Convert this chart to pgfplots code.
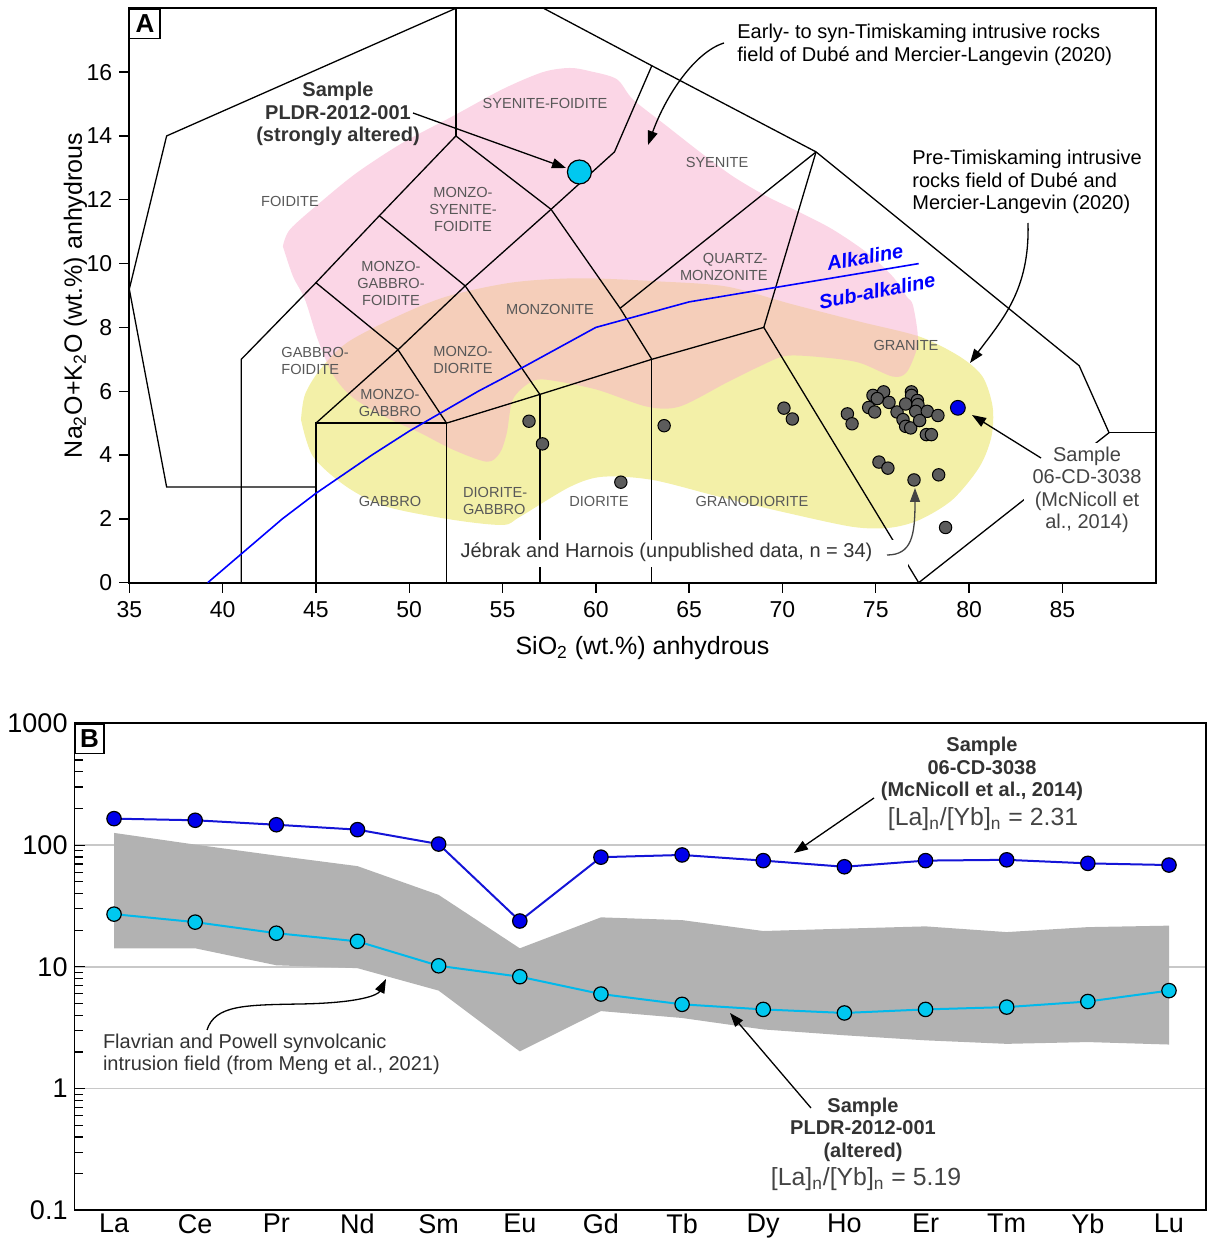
\documentclass[border=0pt]{standalone}
\usepackage{fontspec}
\setmainfont{Liberation Sans}
\usepackage{pgfplots}
\pgfplotsset{compat=1.18}
\usetikzlibrary{arrows.meta}
\definecolor{pinkf}{RGB}{247,173,205}
\definecolor{yellowf}{RGB}{243,240,168}
\definecolor{regtext}{RGB}{88,88,88}
\definecolor{dk}{RGB}{51,51,51}
\definecolor{mg}{RGB}{68,68,68}
\definecolor{dotgray}{RGB}{92,92,92}
\definecolor{cyandot}{RGB}{0,200,240}
\definecolor{cyanline}{RGB}{0,185,235}
\definecolor{bluedot}{RGB}{0,0,235}
\definecolor{blueline}{RGB}{20,20,215}
\definecolor{bandgray}{RGB}{178,178,178}
\definecolor{gridgray}{RGB}{200,200,200}
\newcommand\rs{\fontsize{7.3}{8.5}\selectfont}
\newcommand\an{\fontsize{10}{11.2}\selectfont}
\begin{document}
\begin{tikzpicture}
\useasboundingbox (0,0) rectangle (603.5pt,619.5pt);
% ---------------- Panel A ----------------
\begin{axis}[
  at={(64.65pt,328.15pt)}, anchor=south west, scale only axis,
  width=513.2pt, height=287.2pt,
  xmin=35, xmax=90, ymin=0, ymax=18,
  xtick={35,40,...,85}, ytick={0,2,...,16},
  xtick pos=left, ytick pos=left, tick align=outside,
  major tick length=5pt,
  tick style={black, line width=0.7pt},
  axis line style={line width=0.9pt},
  ticklabel style={font=\fontsize{11.5}{13}\selectfont},
  xticklabel style={yshift=-1pt},
  /pgf/number format/assume math mode=true,
  xlabel={SiO\textsubscript{2} (wt.\%) anhydrous},
  ylabel={Na\textsubscript{2}O+K\textsubscript{2}O (wt.\%) anhydrous},
  xlabel style={font=\fontsize{12.5}{14}\selectfont, at={(axis description cs:0.5,-0.1137)}, anchor=center},
  ylabel style={font=\fontsize{12.5}{14}\selectfont, at={(axis description cs:-0.0525,0.5)}, anchor=center},
]
% Pre-Timiskaming field (yellow)
\addplot[fill=yellowf, draw=none, smooth] coordinates {
(44.2,5.11)(44.41,5.89)(45.21,6.67)(46.66,7.52)(49.34,8.34)(52.02,8.97)(55.55,9.41)(59.14,9.54)(63.43,9.44)(67.01,9.28)(70.55,8.72)(74.14,8.18)(77.35,7.71)(79.49,7.09)(80.72,6.46)(81.26,5.52)(81.2,4.58)(80.56,3.63)(79.11,2.6)(77.35,1.97)(75.74,1.72)(73.76,1.75)(70.22,2.19)(66.63,2.69)(63.04,3.22)(60.36,3.32)(58.6,3.0)(55.92,2.06)(55.01,1.81)(52.34,1.97)(48.8,2.38)(46.66,3.0)(44.85,3.95)(44.2,5.11)};
% Early- to syn-Timiskaming field (pink)
\addplot[fill=pinkf, fill opacity=0.5, draw=none, smooth] coordinates {
(43.23,10.54)(43.61,11.07)(45.22,11.91)(47.2,12.85)(49.66,13.79)(52.34,14.62)(55.02,15.47)(57.16,16.0)(58.6,16.13)(59.68,16.03)(61.12,15.78)(61.98,15.15)(63.8,14.31)(65.57,13.5)(67.33,12.74)(69.15,12.11)(70.92,11.61)(72.69,11.07)(74.51,10.35)(75.9,9.6)(76.65,8.97)(76.98,8.72)(77.24,7.84)(77.19,7.31)(76.65,6.59)(75.9,6.46)(74.14,6.89)(72.35,7.05)(70.22,7.11)(68.78,6.78)(67.01,6.27)(64.49,5.52)(62.72,5.52)(60.05,6.05)(57.37,6.36)(56.46,6.27)(55.55,5.74)(55.23,4.7)(54.86,4.07)(54.16,3.79)(52.34,4.17)(50.57,4.7)(48.8,5.17)(46.98,5.8)(45.91,6.52)(45.1,7.62)(44.41,8.88)(43.77,9.6)(43.23,10.54)};
% TAS field boundaries
\addplot[black, line width=0.65pt] coordinates {(52.5,18)(37,14)(35,9.2)(37,3)(45,3)};
\addplot[black, line width=0.65pt] coordinates {(52.5,18)(52.5,14)};
\addplot[black, line width=0.65pt] coordinates {(41,0)(41,7)(45,9.4)(48.4,11.5)(52.5,14)(57.6,11.7)(61.3,8.6)(63,7)};
\addplot[black, line width=0.65pt] coordinates {(45,0)(45,5)(52,5)(52,0)};
\addplot[black, line width=0.65pt] coordinates {(45,5)(49.4,7.3)(52,5)};
\addplot[black, line width=0.65pt] coordinates {(45,9.4)(49.4,7.3)(53,9.3)(57,5.9)};
\addplot[black, line width=0.65pt] coordinates {(48.4,11.5)(53,9.3)(57.6,11.7)(61,13.5)(63,16.2)};
\addplot[black, line width=0.65pt] coordinates {(52,5)(57,5.9)(63,7)(69,8)(77.3,0)};
\addplot[black, line width=0.65pt] coordinates {(57,0)(57,5.9)};
\addplot[black, line width=0.65pt] coordinates {(63,0)(63,7)};
\addplot[black, line width=0.65pt] coordinates {(61.3,8.6)(71.8,13.5)};
\addplot[black, line width=0.65pt] coordinates {(69,8)(71.8,13.5)};
\addplot[black, line width=0.65pt] coordinates {(57.2,18)(63,16.2)(71.8,13.5)(85.9,6.8)(87.5,4.7)(77.3,0)};
\addplot[black, line width=0.65pt] coordinates {(87.5,4.7)(90,4.7)};
% Alkaline / sub-alkaline divide
\addplot[blue, line width=0.8pt] coordinates {(39.2,0)(40,0.4)(43.2,2.0)(45,2.8)(48,4.0)(50,4.75)(53.7,6.0)(55,6.4)(60,8.0)(65,8.8)(77.3,10.0)};
% Jebrak and Harnois data (n = 34)
\addplot[only marks, mark=*, mark size=3.1pt, mark options={fill=dotgray, draw=black, line width=0.5pt}] coordinates {
(56.42,5.06)(57.14,4.35)(61.34,3.15)(63.66,4.92)(70.08,5.47)(70.53,5.13)(73.48,5.29)(73.73,4.98)(74.85,5.87)(75.42,5.98)(75.08,5.77)(74.62,5.49)(74.94,5.35)(75.71,5.65)(76.14,5.35)(76.91,5.98)(76.92,5.87)(76.6,5.6)(77.23,5.71)(77.26,5.58)(77.14,5.37)(77.76,5.37)(78.33,5.24)(76.46,5.11)(76.6,4.9)(76.87,4.85)(77.35,5.08)(77.71,4.64)(77.98,4.64)(75.17,3.78)(75.65,3.59)(77.05,3.22)(78.37,3.38)(78.74,1.73)};
% Sample 06-CD-3038
\addplot[only marks, mark=*, mark size=3.7pt, mark options={fill=bluedot, draw=black, line width=0.5pt}] coordinates {(79.4,5.48)};
% Sample PLDR-2012-001
\addplot[only marks, mark=*, mark size=6pt, mark options={fill=cyandot, draw=black, line width=0.6pt}] coordinates {(59.12,12.87)};
\end{axis}
% ---------------- Panel B ----------------
\begin{axis}[
  at={(37.3pt,14.35pt)}, anchor=south west, scale only axis,
  width=565.7pt, height=243.45pt,
  ymode=log, ymin=0.1, ymax=1000, xmin=-0.486, xmax=13.456,
  xtick={0,...,13}, xticklabels={La,Ce,Pr,Nd,Sm,Eu,Gd,Tb,Dy,Ho,Er,Tm,Yb,Lu},
  xtick style={draw=none},
  ytick={0.1,1,10,100,1000}, yticklabels={0.1,1,10,100,1000},
  ytick pos=left, tick align=inside,
  major tick length=5pt, minor tick length=4pt,
  tick style={black, line width=0.6pt},
  ymajorgrids, grid style={gridgray, line width=0.8pt},
  axis line style={line width=0.9pt},
  ticklabel style={font=\fontsize{13.5}{15}\selectfont},
  xticklabel style={yshift=1.5pt},
]
\addplot[fill=bandgray, draw=none] coordinates {
(0,126)(1,101)(2,82)(3,67.2)(4,39)(5,14.2)(6,25.5)(7,24.2)(8,19.7)(9,20.6)(10,21.5)(11,19.3)(12,21.2)(13,21.8)
(13,2.30)(12,2.41)(11,2.33)(10,2.49)(9,2.74)(8,3.06)(7,3.8)(6,4.33)(5,2.02)(4,6.38)(3,9.75)(2,10.3)(1,14.2)(0,14.2)(0,126)};
\addplot[blueline, line width=1pt, mark=*, mark size=3.6pt, mark options={fill=bluedot, draw=black, line width=0.6pt}] coordinates {
(0,165)(1,160)(2,147)(3,134)(4,102)(5,23.8)(6,79.6)(7,83)(8,74.6)(9,66.4)(10,74.6)(11,75.7)(12,70.8)(13,68.6)};
\addplot[cyanline, line width=1pt, mark=*, mark size=3.6pt, mark options={fill=cyandot, draw=black, line width=0.6pt}] coordinates {
(0,27.1)(1,23.3)(2,18.9)(3,16.2)(4,10.2)(5,8.3)(6,5.98)(7,4.92)(8,4.47)(9,4.18)(10,4.47)(11,4.67)(12,5.19)(13,6.38)};
\end{axis}
% ---------------- annotations (pixel frame) ----------------
\begin{scope}[x=0.5pt, y=-0.5pt, shift={(0pt,619.5pt)}]
% panel letters
\draw[line width=0.7pt, fill=white] (129.5,9.5) rectangle (160,38.3);
\node[font=\fontsize{13}{14}\selectfont\bfseries] at (145,24) {A};
\draw[line width=0.7pt, fill=white] (74.8,724) rectangle (104,753.4);
\node[font=\fontsize{13}{14}\selectfont\bfseries] at (89.5,739) {B};
% rock names
\begin{scope}[every node/.style={font=\rs, text=regtext, align=center, inner sep=0pt}]
\node at (545,103) {SYENITE-FOIDITE};
\node at (717,162) {SYENITE};
\node at (290,201) {FOIDITE};
\node at (463,209) {MONZO-\\SYENITE-\\FOIDITE};
\node at (391,283) {MONZO-\\GABBRO-\\FOIDITE};
\node[anchor=east, align=right] at (768,267) {QUARTZ-\\MONZONITE};
\node at (550,309) {MONZONITE};
\node[anchor=west, align=left] at (281,361) {GABBRO-\\FOIDITE};
\node at (463,360) {MONZO-\\DIORITE};
\node at (390,403) {MONZO-\\GABBRO};
\node at (906,345) {GRANITE};
\node at (390,501) {GABBRO};
\node[anchor=west, align=left] at (462.7,501) {DIORITE-\\GABBRO};
\node at (599,501) {DIORITE};
\node at (752,501) {GRANODIORITE};
\end{scope}
\node[font=\fontsize{10}{11}\selectfont\bfseries\itshape, text=blue, rotate=10, inner sep=0pt] at (865,257) {Alkaline};
\node[font=\fontsize{10}{11}\selectfont\bfseries\itshape, text=blue, rotate=11, inner sep=0pt] at (877,291) {Sub-alkaline};
% sample PLDR label and arrow
\node[font=\fontsize{10}{11.25}\selectfont\bfseries, text=dk, align=center] at (338,114) {Sample\\PLDR-2012-001\\(strongly altered)};
\draw[line width=0.65pt, -{Triangle[length=7pt,width=5pt]}] (413,113) -- (566,168);
% early to syn field label
\node[font=\an, anchor=west, align=left, inner sep=0pt] at (737,45) {Early- to syn-Timiskaming intrusive rocks\\field of Dub\'e and Mercier-Langevin (2020)};
\draw[line width=0.65pt, -{Triangle[length=7pt,width=5pt]}] (724,43) .. controls (695,52) and (666,95) .. (648,145);
% pre-Timiskaming label
\node[font=\an, anchor=west, align=left, inner sep=0pt] at (912,182) {Pre-Timiskaming intrusive\\rocks field of Dub\'e and\\Mercier-Langevin (2020)};
\draw[line width=0.65pt, -{Triangle[length=7pt,width=5pt]}] (1028,223) .. controls (1030,290) and (1002,320) .. (970,363);
% 06-CD-3038 label in A
\fill[white] (1024,443) rectangle (1146,536);
\node[font=\an, text=mg, align=center] at (1087,490) {Sample\\06-CD-3038\\(McNicoll et\\al., 2014)};
\draw[line width=0.65pt, -{Triangle[length=7pt,width=5pt]}] (1041,458) -- (972,415);
% Jebrak label
\fill[white] (455,540) rectangle (908,567);
\node[font=\an, text=dk] at (666.5,552) {J\'ebrak and Harnois (unpublished data, n = 34)};
\draw[mg, line width=0.65pt, -{Triangle[length=7pt,width=5pt]}] (887,555) .. controls (912,555) and (915,535) .. (915,488);
% ---- panel B annotations ----
\node[font=\an\bfseries, text=dk, align=center] at (982,769) {Sample\\06-CD-3038\\(McNicoll et al., 2014)};
\node[font=\fontsize{12.4}{14}\selectfont, text=mg] at (983,819) {[La]\textsubscript{n}/[Yb]\textsubscript{n} = 2.31};
\draw[line width=0.65pt, -{Triangle[length=7pt,width=5pt]}] (874,798) -- (794,853);
\node[font=\an\bfseries, text=dk, align=center] at (863,1129.5) {Sample\\PLDR-2012-001\\(altered)};
\node[font=\fontsize{12.4}{14}\selectfont, text=mg] at (866,1179) {[La]\textsubscript{n}/[Yb]\textsubscript{n} = 5.19};
\draw[line width=0.65pt, -{Triangle[length=7pt,width=5pt]}] (811,1108) -- (730,1013);
\node[font=\an, text=dk, anchor=west, align=left, inner sep=0pt] at (102.6,1054.5) {Flavrian and Powell synvolcanic\\intrusion field (from Meng et al., 2021)};
\draw[line width=0.65pt, -{Triangle[length=7pt,width=5pt]}] (207,1030) .. controls (215,1005) and (245,1005) .. (300,1004) .. controls (360,1003) and (378,995) .. (386,979);
\end{scope}
\end{tikzpicture}
\end{document}
